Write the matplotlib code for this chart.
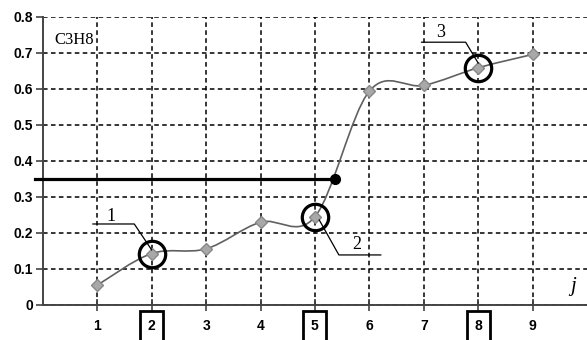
import matplotlib
matplotlib.use("Agg")
import matplotlib.pyplot as plt
from matplotlib.path import Path
from matplotlib.patches import PathPatch

# values
j = [1, 2, 3, 4, 5, 6, 7, 8, 9]
c3h8 = [0.055, 0.143, 0.156, 0.230, 0.245, 0.594, 0.610, 0.659, 0.696]
circled = [2, 5, 8]
level = 0.35
level_x = 5.36
yticks = [0, 0.1, 0.2, 0.3, 0.4, 0.5, 0.6, 0.7, 0.8]
ytick_labels = ["0", "0.1", "0.2", "0.3", "0.4", "0.5", "0.6", "0.7", "0.8"]


def smooth_path(x, y):
    """Excel-like smoothed line: Catmull-Rom segments as cubic Bezier."""
    verts = [(x[0], y[0])]
    codes = [Path.MOVETO]
    n = len(x)
    for i in range(n - 1):
        x0, y0 = (x[i - 1], y[i - 1]) if i > 0 else (x[i], y[i])
        x3, y3 = (x[i + 2], y[i + 2]) if i + 2 < n else (x[i + 1], y[i + 1])
        c1 = (x[i] + (x[i + 1] - x0) / 6, y[i] + (y[i + 1] - y0) / 6)
        c2 = (x[i + 1] - (x3 - x[i]) / 6, y[i + 1] - (y3 - y[i]) / 6)
        verts += [c1, c2, (x[i + 1], y[i + 1])]
        codes += [Path.CURVE4] * 3
    return Path(verts, codes)


fig = plt.figure(figsize=(5.87, 3.40), dpi=100)
ax = fig.add_axes([0.073, 0.103, 0.927, 0.847])
ax.set_xlim(0, 10)
ax.set_ylim(0, 0.8)

ax.grid(True, color="black", linestyle=(0, (3, 2.2)), linewidth=1.1)
ax.set_axisbelow(True)
for s in ["top", "right"]:
    ax.spines[s].set_visible(False)
ax.spines["left"].set_color("#444444")
ax.spines["bottom"].set_color("#444444")
ax.spines["left"].set_linewidth(1.4)
ax.spines["bottom"].set_linewidth(1.4)

# smoothed curve with diamond markers
ax.add_patch(PathPatch(smooth_path(j, c3h8), fill=False, edgecolor="#606060", lw=1.2, zorder=3))
ax.plot(j, c3h8, linestyle="none", marker="D", markersize=6.5,
        markerfacecolor="#a8a8a8", markeredgecolor="#888888", zorder=4)

# circled points
cx = [j[k - 1] for k in circled]
cy = [c3h8[k - 1] for k in circled]
ax.plot(cx, cy, linestyle="none", marker="o", markersize=19,
        markerfacecolor="none", markeredgecolor="black", markeredgewidth=2.3, zorder=5)

# threshold line ending at a dot
ax.plot([-0.15, level_x], [level, level], color="black", lw=2.3, clip_on=False, zorder=6)
ax.plot([level_x], [level], marker="o", color="black", markersize=7, zorder=6)

# leader lines and labels
serif = "Liberation Serif"
ax.plot([0.92, 1.68, 2.0], [0.225, 0.225, 0.153], color="black", lw=0.9, zorder=6)
ax.text(1.26, 0.245, "1", family=serif, fontsize=13, ha="center", va="center")
ax.plot([5.08, 5.44, 6.21], [0.236, 0.139, 0.139], color="black", lw=0.9, zorder=6)
ax.text(5.77, 0.168, "2", family=serif, fontsize=13, ha="center", va="center")
ax.plot([6.96, 7.77, 8.0], [0.73, 0.73, 0.672], color="black", lw=0.9, zorder=6)
ax.text(7.31, 0.757, "3", family=serif, fontsize=13, ha="center", va="center")

ax.text(0.22, 0.735, "C3H8", family=serif, fontsize=12, ha="left", va="center")
ax.text(9.75, 0.05, "j", family=serif, style="italic", fontsize=15, ha="center", va="center")

# ticks
ax.set_xticks(j)
ax.set_xticklabels([str(v) for v in j])
ax.set_yticks(yticks)
ax.set_yticklabels(ytick_labels)
ax.tick_params(axis="x", direction="inout", length=8, width=1.2, pad=6, colors="#444444",
               labelcolor="black")
ax.tick_params(axis="y", direction="out", length=5, width=1.2, pad=2, colors="#444444",
               labelcolor="black")
for lab in ax.get_xticklabels() + ax.get_yticklabels():
    lab.set_fontfamily("Liberation Sans")
    lab.set_fontweight("bold")
    lab.set_fontsize(10)
for lab in ax.get_xticklabels():
    if int(lab.get_text()) in circled:
        lab.set_bbox(dict(boxstyle="square,pad=0.55", facecolor="none",
                          edgecolor="black", linewidth=2))

fig.savefig("out.png", dpi=100)
